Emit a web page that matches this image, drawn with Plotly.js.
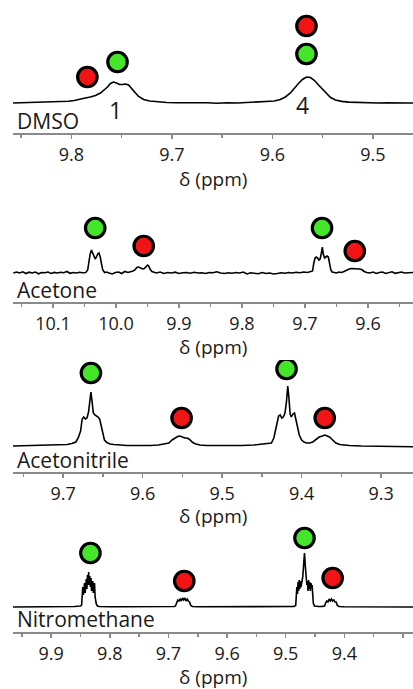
<!DOCTYPE html>
<html>
<head>
<meta charset="utf-8">
<script src="https://cdn.plot.ly/plotly-3.0.1.min.js"></script>
<style>html,body{margin:0;padding:0;background:#fff;}#chart{width:413px;height:689px;}</style>
</head>
<body>
<div id="chart"></div>
<script>
// ---------- DATA ----------
var solventNames = ["DMSO", "Acetone", "Acetonitrile", "Nitromethane"];
var axisTitle = "δ (ppm)";

// DMSO spectrum
var dmsoPpm = [9.858, 9.850, 9.842, 9.834, 9.826, 9.818, 9.810, 9.803, 9.797, 9.791, 9.786, 9.781, 9.776, 9.771, 9.767, 9.764, 9.761, 9.758, 9.755, 9.752, 9.749, 9.746, 9.743, 9.740, 9.737, 9.733, 9.728, 9.722, 9.714, 9.705, 9.695, 9.685, 9.675, 9.665, 9.655, 9.645, 9.635, 9.625, 9.615, 9.606, 9.598, 9.592, 9.587, 9.582, 9.578, 9.574, 9.570, 9.566, 9.562, 9.558, 9.554, 9.550, 9.546, 9.542, 9.537, 9.531, 9.524, 9.515, 9.505, 9.495, 9.485, 9.475, 9.466, 9.460];
var dmsoInt = [0, 0.3, 0.2, 0.6, 0.5, 0.8, 1.2, 1.8, 2.5, 3.5, 5, 6, 7.5, 10, 13, 16, 19.5, 21, 20, 18.5, 18.5, 19, 18, 15, 11, 6.5, 3.5, 2, 1, 0.5, 0.2, 0.4, 0, 0.3, -0.2, 0.3, 0, 0.4, 0.6, 1.0, 2.0, 3.5, 6, 10, 15, 19.5, 23.5, 26, 25.5, 22.5, 18, 13.5, 9, 5.5, 3, 1.6, 0.9, 0.4, 0.2, 0, 0.2, -0.2, 0, 0];

// Acetone spectrum
var acetonePpm = [10.163, 10.158, 10.153, 10.148, 10.143, 10.138, 10.133, 10.128, 10.123, 10.118, 10.113, 10.108, 10.103, 10.098, 10.093, 10.088, 10.083, 10.078, 10.073, 10.068, 10.063, 10.058, 10.053, 10.048,
  10.045, 10.043, 10.041, 10.039, 10.037, 10.035, 10.033, 10.031, 10.029, 10.027, 10.025, 10.023, 10.021, 10.018, 10.015,
  10.011, 10.006, 10.001, 9.996, 9.991, 9.986, 9.981, 9.977, 9.973,
  9.970, 9.967, 9.964, 9.961, 9.958, 9.955, 9.952, 9.950, 9.948, 9.946, 9.943, 9.940,
  9.936, 9.930, 9.924, 9.918, 9.912, 9.906, 9.900, 9.894, 9.888, 9.882, 9.876, 9.870, 9.864, 9.858, 9.852, 9.846, 9.840, 9.834, 9.828, 9.822, 9.816, 9.810, 9.804, 9.798, 9.792, 9.786, 9.780, 9.774, 9.768, 9.762, 9.756, 9.750, 9.744, 9.738, 9.732, 9.726, 9.720, 9.714, 9.708, 9.702, 9.696, 9.691,
  9.688, 9.686, 9.684, 9.682, 9.680, 9.678, 9.676, 9.674, 9.6725, 9.671, 9.669, 9.667, 9.665, 9.663, 9.661, 9.659, 9.657,
  9.654, 9.650, 9.646, 9.642, 9.638, 9.634, 9.630, 9.626, 9.622, 9.618, 9.614, 9.610, 9.606, 9.602,
  9.597, 9.592, 9.587, 9.582, 9.577, 9.572, 9.567, 9.562, 9.557, 9.552, 9.547, 9.542, 9.537, 9.532, 9.528];
var acetoneInt = [0, 1, 0, 1.2, -0.5, 0.8, 0, 1, -0.8, 0.5, 0.2, 1, -0.5, 0.6, 0, 0.8, 0.3, 1.5, -0.3, 0.5, 0, 0.8, 0.2, 0.5,
  3, 12, 19, 23, 20, 17, 14, 16, 19, 20, 16, 9, 3, 0.5, 1,
  0, -1, 0.5, 1, -0.5, 1.5, 0.5, 1, 2,
  3, 5.5, 6, 5, 4, 4.5, 7, 8, 7, 4, 1.5, 0.5,
  0, 1, -0.5, 0.5, 0, 0.8, -0.5, 0.3, 0.5, -0.3, 0.8, 0, 0.3, -0.5, 0.5, 0.2, 1.2, 0, -0.5, 0.3, -0.2, 0.5, 0, 1, -1, 0.2, 0, -0.8, 0.5, -0.5, 0, -1, -0.5, 0.3, -0.3, 0.5, 0, 0.8, 0.3, 1, 0.5, 1.5,
  2, 10, 15, 16, 15, 13, 14, 20, 26, 19, 15, 16, 17, 16, 9, 3, 1,
  0.5, 0, 1, 0.5, 1.5, 3, 4, 4.5, 4.5, 4.5, 4, 3.5, 1.5, 0.5,
  0, 1, -0.5, 0.5, 1, -0.5, 0.5, 1.2, -0.3, 0.5, 1, 0, 0.3, 0.8, 0.5];

// Acetonitrile spectrum
var acetonitrilePpm = [9.763, 9.750, 9.735, 9.720, 9.705, 9.695, 9.689, 9.686,
  9.684, 9.681, 9.678, 9.676, 9.674, 9.672, 9.670, 9.668, 9.6665, 9.665, 9.6635, 9.662, 9.660, 9.658, 9.656, 9.654, 9.652, 9.650, 9.648, 9.645, 9.641, 9.636,
  9.630, 9.620, 9.610, 9.600, 9.590, 9.580, 9.572,
  9.567, 9.563, 9.559, 9.556, 9.553, 9.550, 9.547, 9.544, 9.541, 9.537, 9.533, 9.528,
  9.520, 9.505, 9.490, 9.475, 9.460, 9.448, 9.441,
  9.438, 9.435, 9.432, 9.429, 9.427, 9.425, 9.423, 9.421, 9.419, 9.4175, 9.416, 9.4145, 9.413, 9.411, 9.409, 9.407, 9.405, 9.403, 9.400, 9.397,
  9.394, 9.390,
  9.386, 9.382, 9.378, 9.374, 9.371, 9.368, 9.365, 9.361, 9.357, 9.352, 9.347,
  9.340, 9.325, 9.310, 9.295, 9.280, 9.270, 9.260];
var acetonitrileInt = [0, 0.3, 0.5, 0.5, 1, 1.5, 2.5, 3.5,
  4, 8, 15, 27, 29, 27, 28, 34, 45, 54, 44, 33, 31, 30, 29, 27, 20, 10, 6, 3.5, 2, 1.5,
  1, 0.5, 0.5, 0.3, 0.5, 1, 2,
  3, 6, 8, 9.5, 10, 9, 8, 8, 6.5, 3.5, 2, 1,
  0.5, 0.5, 0.3, 0.5, 1, 2, 3,
  3, 8, 19, 30, 31, 28, 29, 33, 45, 60, 48, 32, 29, 32, 33, 26, 18, 11, 6, 4,
  3, 3,
  4, 6.5, 9, 10, 11, 10, 9, 6, 3, 1.5, 1,
  0.5, 0, -0.3, -0.5, -0.5, -0.8, -0.8];

// Nitromethane spectrum
var nitromethanePpm = [9.965, 9.940, 9.910, 9.880, 9.860, 9.850,
  9.848, 9.846, 9.845, 9.843, 9.842, 9.840, 9.839, 9.838, 9.837, 9.836, 9.835, 9.834, 9.833, 9.832, 9.831, 9.829, 9.828, 9.826, 9.825, 9.823, 9.821, 9.818, 9.812,
  9.800, 9.780, 9.760, 9.740, 9.720, 9.700, 9.690,
  9.688, 9.686, 9.684, 9.682, 9.680, 9.678, 9.676, 9.674, 9.672, 9.670, 9.668, 9.666, 9.664, 9.662, 9.659,
  9.650, 9.620, 9.590, 9.560, 9.530, 9.500, 9.486,
  9.483, 9.481, 9.480, 9.479, 9.478, 9.477, 9.476, 9.475, 9.474, 9.473, 9.471, 9.4695, 9.468, 9.4665, 9.465, 9.464, 9.463, 9.462, 9.461, 9.460, 9.459, 9.458, 9.457, 9.456, 9.455, 9.453, 9.451, 9.448,
  9.444, 9.438,
  9.434, 9.432, 9.430, 9.428, 9.426, 9.424, 9.422, 9.420, 9.418, 9.416, 9.414, 9.412, 9.409,
  9.400, 9.380, 9.360, 9.340, 9.320, 9.300, 9.283];
var nitromethaneInt = [0, 0, 0.2, 0.3, 0.5, 1,
  2, 20, 12, 24, 14, 28, 18, 32, 22, 35, 22, 31, 20, 29, 16, 26, 14, 24, 10, 3, 1, 0.5, 0.3,
  0.3, 0.2, 0.2, 0.3, 0.2, 0.3, 0.5,
  1, 5, 7, 6, 8, 6, 9, 7, 9, 6, 8, 6, 5, 1.5, 0.5,
  0.3, 0.3, 0.2, 0.2, 0.3, 0.3, 0.5,
  1.5, 20, 13, 25, 16, 27, 18, 26, 20, 24, 30, 42, 54, 40, 28, 22, 26, 16, 27, 18, 25, 16, 24, 20, 22, 4, 1, 0.5,
  0.5, 0.6,
  1, 4, 6, 5, 8, 6, 8, 6, 7, 5, 5, 1.5, 0.5,
  0.3, 0.2, 0, 0, 0, 0, 0];

// Assignment markers (red / green circles) per panel
var dmsoMarkPpm = [9.784, 9.754, 9.566, 9.566];
var dmsoMarkInt = [26, 41, 77, 49];
var dmsoMarkCol = ["red", "green", "red", "green"];
var acetoneMarkPpm = [10.033, 9.956, 9.673, 9.621];
var acetoneMarkInt = [45, 27, 45, 22];
var acetoneMarkCol = ["green", "red", "green", "red"];
var acetonitrileMarkPpm = [9.665, 9.551, 9.419, 9.371];
var acetonitrileMarkInt = [73, 28, 77, 28];
var acetonitrileMarkCol = ["green", "red", "green", "red"];
var nitromethaneMarkPpm = [9.833, 9.673, 9.468, 9.420];
var nitromethaneMarkInt = [54, 26, 69, 29];
var nitromethaneMarkCol = ["green", "red", "green", "red"];

// Peak numbers in DMSO panel
var peakLabels = ["1", "4"];
var peakLabelPpm = [9.756, 9.570];
var peakLabelInt = [-7, -2];

// Axis ranges and tick labels
var xRanges = [[9.858, 9.460], [10.1635, 9.5286], [9.763, 9.260], [9.965, 9.283]];
var majorTicks = [
  [9.8, 9.7, 9.6, 9.5],
  [10.1, 10.0, 9.9, 9.8, 9.7, 9.6],
  [9.7, 9.6, 9.5, 9.4, 9.3],
  [9.9, 9.8, 9.7, 9.6, 9.5, 9.4, 9.3]
];
var majorTickText = [
  ["9.8", "9.7", "9.6", "9.5"],
  ["10.1", "10.0", "9.9", "9.8", "9.7", "9.6"],
  ["9.7", "9.6", "9.5", "9.4", "9.3"],
  ["9.9", "9.8", "9.7", "9.6", "9.5", "9.4", ""]
];
var minorTicks = [
  [9.85, 9.75, 9.65, 9.55],
  [10.15, 10.05, 9.95, 9.85, 9.75, 9.65, 9.55],
  [9.75, 9.65, 9.55, 9.45, 9.35],
  [9.95, 9.85, 9.75, 9.65, 9.55, 9.45, 9.35]
];
var yRanges = [[-30, 98], [-29, 73], [-26, 86], [-25, 81]];
var labelInt = [-18, -17, -14, -12];

// ---------- LAYOUT / STYLE ----------
var H = 689;
function py(p) { return 1 - p / H; }
var domains = [[py(133), py(5)], [py(302), py(200)], [py(472), py(360)], [py(632), py(526)]];
var titlePos = [py(179), py(347), py(516), py(677)];
var FONT = "Open Sans, Noto Sans, sans-serif";
var colorMap = { red: "#f01414", green: "#44e62a" };

var spectra = [[dmsoPpm, dmsoInt], [acetonePpm, acetoneInt], [acetonitrilePpm, acetonitrileInt], [nitromethanePpm, nitromethaneInt]];
var marks = [[dmsoMarkPpm, dmsoMarkInt, dmsoMarkCol], [acetoneMarkPpm, acetoneMarkInt, acetoneMarkCol],
  [acetonitrileMarkPpm, acetonitrileMarkInt, acetonitrileMarkCol], [nitromethaneMarkPpm, nitromethaneMarkInt, nitromethaneMarkCol]];

var traces = [];
var layout = {
  width: 413, height: 689,
  margin: { l: 13, r: 0, t: 0, b: 0 },
  paper_bgcolor: "#fff", plot_bgcolor: "rgba(0,0,0,0)",
  showlegend: false, hovermode: false,
  font: { family: FONT, color: "#1a1a1a" },
  annotations: []
};

for (var i = 0; i < 4; i++) {
  var sfx = i === 0 ? "" : String(i + 1);
  var xa = "x" + sfx, ya = "y" + sfx;
  traces.push({
    x: spectra[i][0], y: spectra[i][1], xaxis: xa, yaxis: ya,
    type: "scatter", mode: "lines", line: { color: "#000", width: 1.6, shape: "linear" },
    name: solventNames[i]
  });
  traces.push({
    x: marks[i][0], y: marks[i][1], xaxis: xa, yaxis: ya,
    type: "scatter", mode: "markers",
    marker: { size: 19.5, color: marks[i][2].map(function (c) { return colorMap[c]; }), line: { color: "#000", width: 3.2 } },
    name: solventNames[i] + " assignments"
  });
  layout["xaxis" + sfx] = {
    domain: [0, 1], anchor: ya, range: xRanges[i], autorange: false,
    showline: true, linecolor: "#8a8a8a", linewidth: 2,
    ticks: "outside", ticklen: 4, tickwidth: 1.5, tickcolor: "#8a8a8a",
    tickmode: "array", tickvals: majorTicks[i], ticktext: majorTickText[i],
    minor: { tickmode: "array", tickvals: minorTicks[i], ticks: "outside", ticklen: 3, tickwidth: 1.5, tickcolor: "#8a8a8a" },
    tickfont: { family: FONT, size: 18, color: "#1a1a1a" },
    ticklabelstandoff: 0,
    showgrid: false, zeroline: false, fixedrange: true
  };
  layout["yaxis" + sfx] = {
    domain: domains[i], anchor: xa, range: yRanges[i], autorange: false,
    visible: false, showgrid: false, zeroline: false, fixedrange: true
  };
  layout.annotations.push({
    text: solventNames[i], xref: "paper", yref: ya, x: 0.005, y: labelInt[i],
    xanchor: "left", yanchor: "middle", showarrow: false,
    font: { family: FONT, size: 21, color: "#1a1a1a" }
  });
  layout.annotations.push({
    text: axisTitle, xref: "paper", yref: "paper", x: 0.5, y: titlePos[i],
    xanchor: "center", yanchor: "middle", showarrow: false, borderpad: 0,
    font: { family: FONT, size: 19, color: "#1a1a1a" }
  });
}
for (var k = 0; k < peakLabels.length; k++) {
  layout.annotations.push({
    text: peakLabels[k], xref: "x", yref: "y", x: peakLabelPpm[k], y: peakLabelInt[k],
    xanchor: "center", yanchor: "middle", showarrow: false,
    font: { family: FONT, size: 23, color: "#1a1a1a" }
  });
}

Plotly.newPlot("chart", traces, layout, { staticPlot: true, displayModeBar: false });
</script>
</body>
</html>
